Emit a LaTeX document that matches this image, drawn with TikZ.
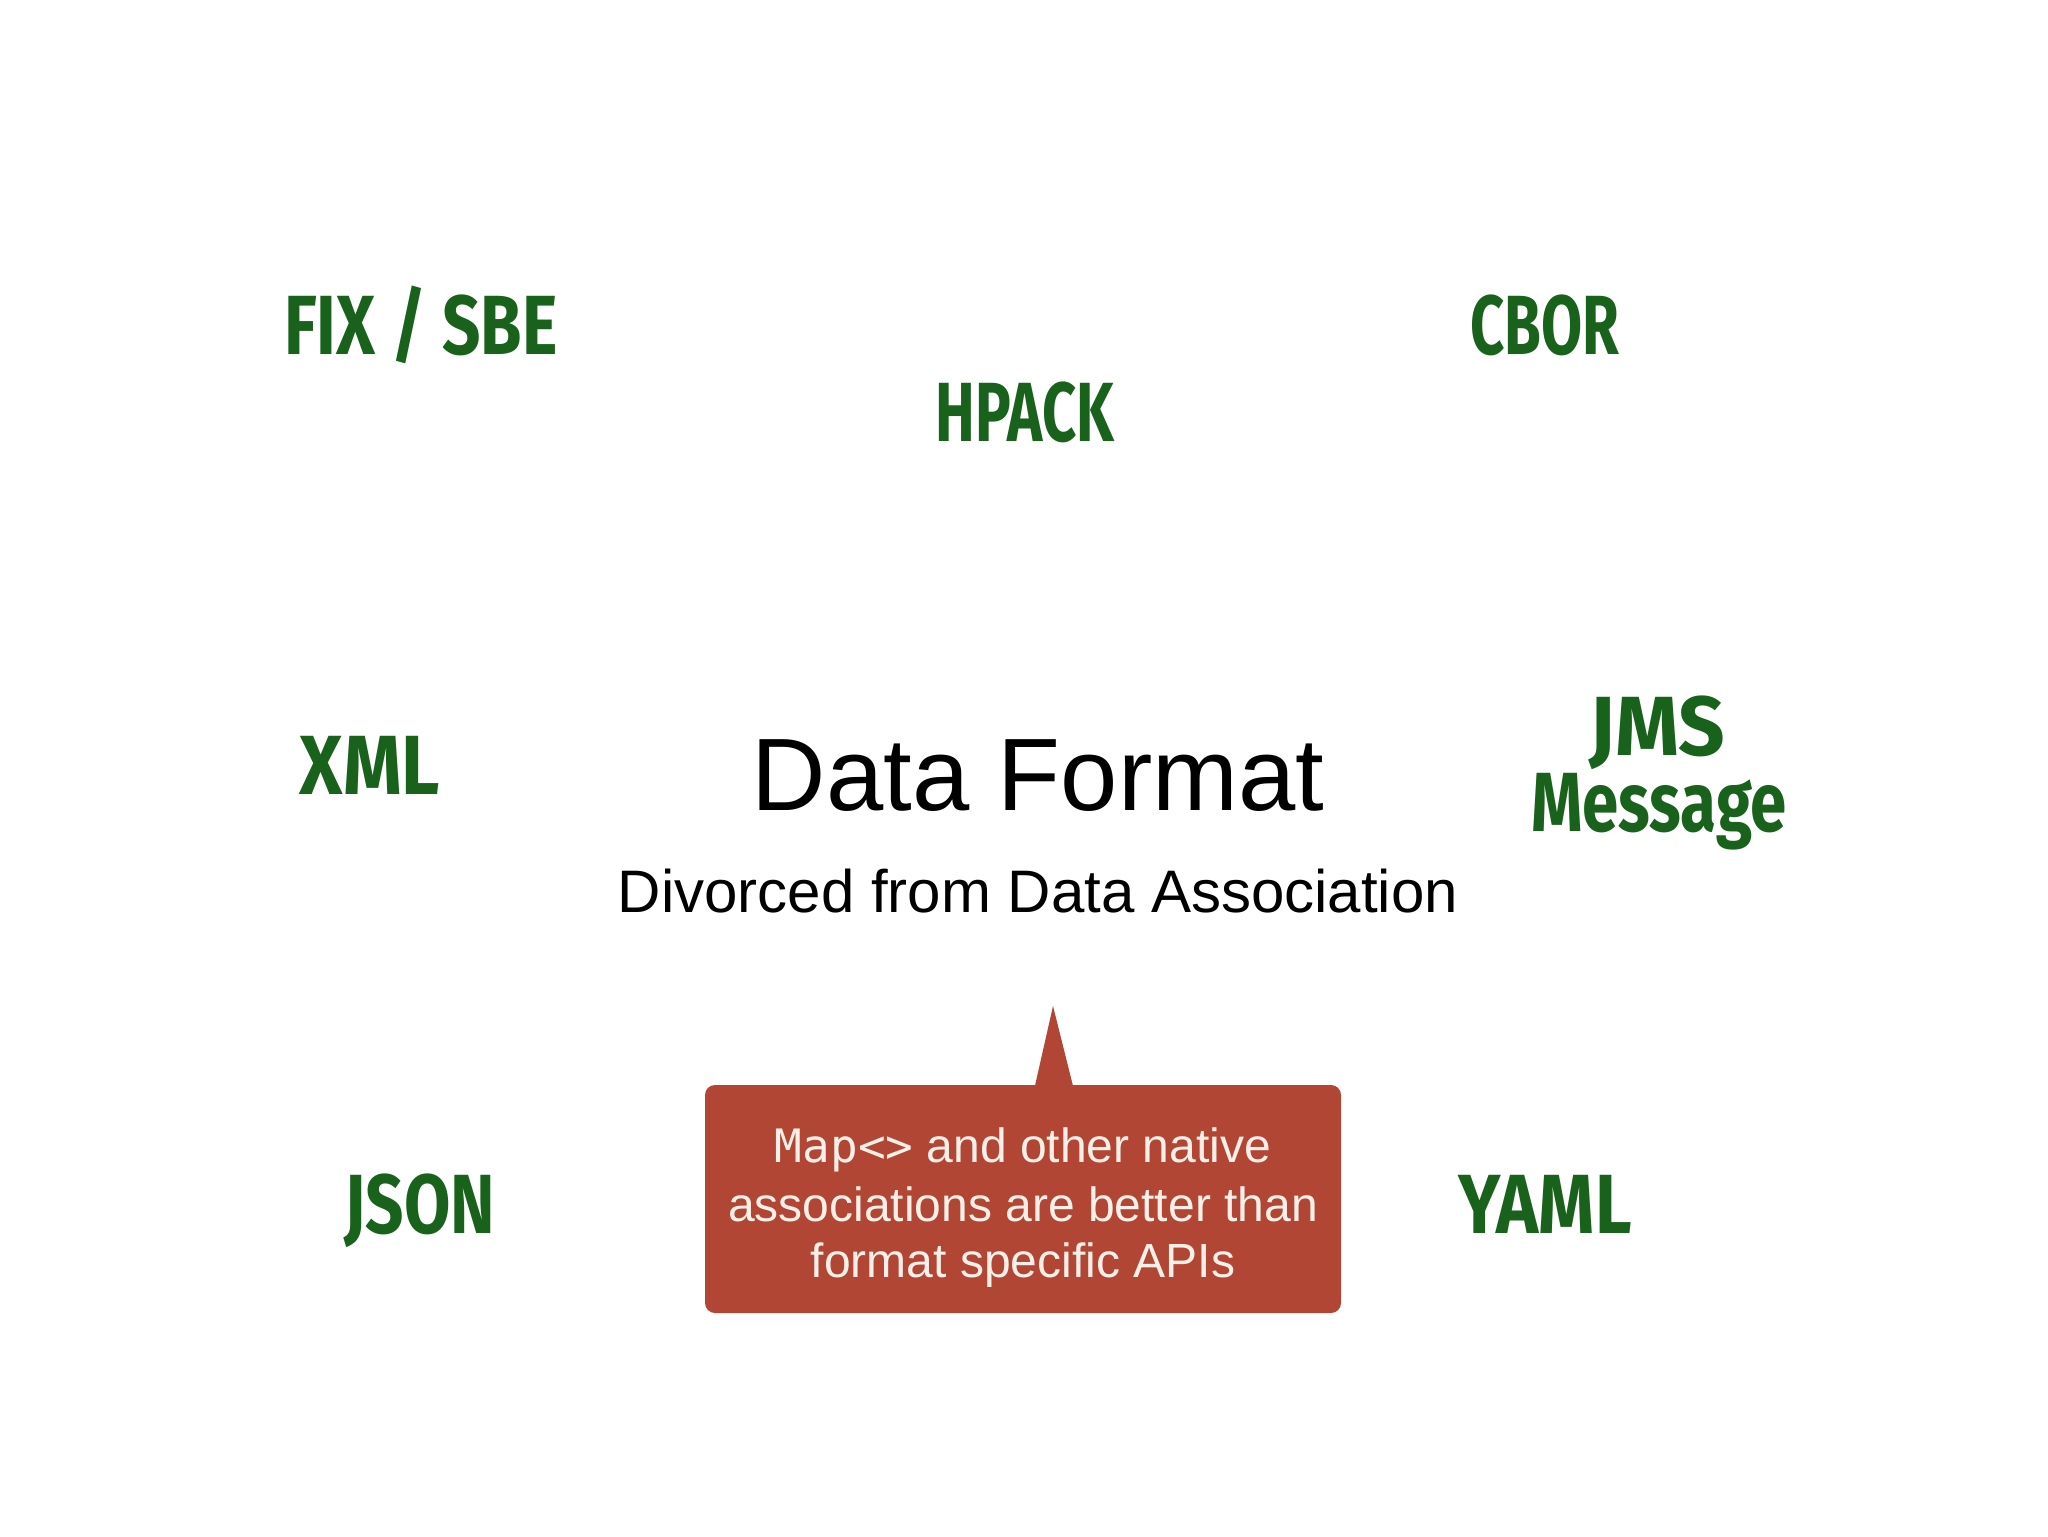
\documentclass[tikz,border=0pt]{standalone}
\usepackage{fontspec}
\setmainfont{Liberation Sans}
\newfontfamily\greenfont{Fira Sans}[UprightFont=* Bold]
\newfontfamily\monofont{DejaVu Sans Mono}
\definecolor{labgreen}{HTML}{18621B}
\definecolor{callred}{HTML}{B14634}
\definecolor{cream}{HTML}{F8F0E8}
\tikzset{
  fmt/.style={anchor=base, inner sep=0pt, text=labgreen, font=\greenfont\fontsize{42}{42}\selectfont},
  calltext/.style={anchor=base, inner sep=0pt, text=cream, font=\fontsize{24}{24}\selectfont},
  callbox/.style={fill=callred, rounded corners=5pt, minimum width=318pt, minimum height=114pt, inner sep=0pt},
}
\newcommand{\sq}[2][0.8]{\scalebox{#1}[1]{#2}}
\begin{document}
\begin{tikzpicture}[x=0.5pt,y=-0.5pt]
\useasboundingbox[fill=white] (0,0) rectangle (2048,1536);
% green format labels
\node[fmt] (fix) at (421,354) {\sq{FIX / SBE}};
\node[fmt] (hpack) at (1025,441) {\sq[0.71]{HPACK}};
\node[fmt] (cbor) at (1545,354) {\sq[0.71]{CBOR}};
\node[fmt] (xml) at (370,794) {\sq[0.89]{XML}};
\node[fmt] (jms) at (1657,755) {\sq[0.97]{JMS}};
\node[fmt] (msg) at (1659,831) {\sq[0.78]{Message}};
\node[fmt] (json) at (420,1233) {\sq{JSON}};
\node[fmt] (yaml) at (1545,1233) {\sq[0.85]{YAML}};
% title
\node[anchor=base, inner sep=0pt, font=\fontsize{51.5}{51.5}\selectfont] (title) at (1038,810) {Data Format};
\node[anchor=base, inner sep=0pt, font=\fontsize{30}{30}\selectfont] (sub) at (1038,912) {Divorced from Data Association};
% callout
\node[callbox] (box) at (1023,1199) {};
\coordinate (tip) at (1053,1006);
\fill[callred] (1034,1090) -- (tip) -- (1074,1090) -- cycle;
\node[calltext] (l1) at (1023,1162) {{\monofont\fontsize{23}{23}\selectfont Map<>} and other native};
\node[calltext] (l2) at (1023,1221) {associations are better than};
\node[calltext] (l3) at (1023,1277) {format specific APIs};
\end{tikzpicture}
\end{document}
